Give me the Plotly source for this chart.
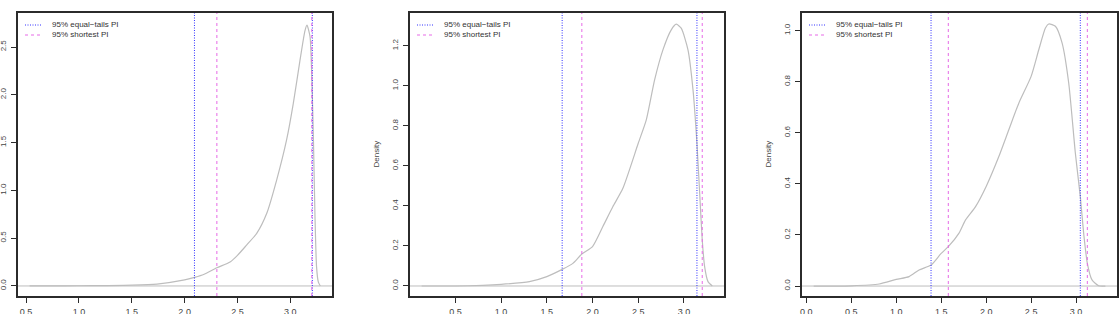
import plotly.graph_objects as go

# ---------------- data ----------------
# Panel 1
x1 = [0.534, 0.733, 1.0, 1.25, 1.503, 1.739, 2.0, 2.094, 2.18, 2.305, 2.43, 2.5, 2.588,
      2.682, 2.777, 2.871, 2.965, 3.028, 3.091, 3.138, 3.157, 3.186, 3.205, 3.217,
      3.233, 3.248, 3.265, 3.284]
d1 = [0.0, 0.0, 0.002, 0.004, 0.008, 0.02, 0.063, 0.09, 0.12, 0.19, 0.25, 0.32, 0.43,
      0.55, 0.76, 1.11, 1.53, 1.91, 2.36, 2.67, 2.73, 2.61, 2.1, 1.6,
      0.73, 0.2, 0.04, 0.0]
et1 = [2.093, 3.208]
sh1 = [2.305, 3.203]

# Panel 2
x2 = [0.131, 0.5, 0.8, 1.0, 1.31, 1.5, 1.668, 1.785, 1.883, 2.0, 2.113, 2.223, 2.332,
      2.5, 2.588, 2.679, 2.77, 2.861, 2.916, 2.97, 3.044, 3.099, 3.142, 3.172, 3.2,
      3.226, 3.263, 3.31]
d2 = [0.0, 0.0, 0.003, 0.008, 0.022, 0.047, 0.083, 0.113, 0.16, 0.197, 0.297, 0.397, 0.488,
      0.713, 0.83, 1.03, 1.18, 1.28, 1.308, 1.288, 1.18, 0.98, 0.713, 0.463, 0.23,
      0.097, 0.022, 0.0]
et2 = [1.668, 3.142]
sh2 = [1.883, 3.200]

# Panel 3
x3 = [0.082, 0.3, 0.5, 0.81, 1.0, 1.143, 1.254, 1.387, 1.5, 1.579, 1.698, 1.771, 1.882,
      2.0, 2.141, 2.252, 2.363, 2.5, 2.585, 2.659, 2.696, 2.77, 2.844, 2.918, 2.992,
      3.047, 3.084, 3.125, 3.177, 3.251, 3.326]
d3 = [0.0, 0.0, 0.001, 0.008, 0.026, 0.037, 0.063, 0.082, 0.128, 0.154, 0.207, 0.259, 0.311,
      0.39, 0.507, 0.612, 0.716, 0.821, 0.925, 1.01, 1.026, 1.017, 0.952, 0.795, 0.52,
      0.35, 0.207, 0.089, 0.024, 0.001, 0.0]
et3 = [1.387, 3.047]
sh3 = [1.579, 3.125]

xticks = [[0.5, 1.0, 1.5, 2.0, 2.5, 3.0],
          [0.5, 1.0, 1.5, 2.0, 2.5, 3.0],
          [0.0, 0.5, 1.0, 1.5, 2.0, 2.5, 3.0]]
yticks = [[0.0, 0.5, 1.0, 1.5, 2.0, 2.5],
          [0.0, 0.2, 0.4, 0.6, 0.8, 1.0, 1.2],
          [0.0, 0.2, 0.4, 0.6, 0.8, 1.0]]
legend_labels = ["95% equal\u2212tails PI", "95% shortest PI"]
ylabel = "Density"

# ---------------- layout / style ----------------
W, H = 1119, 314
FONT = "Liberation Sans, Arial, Helvetica, sans-serif"
CURVE = "#bdbdbd"
BLUE = "#3030ff"
PINK = "#e76ae7"
BOX = "#2b2b2b"
TXT = "#444444"

xdomains = [(18 / W, 332 / W), (410 / W, 724 / W), (802 / W, 1117 / W)]
ydomain = ((314 - 296) / H, (314 - 13) / H)
xranges = [[0.424, 3.394], [0.0036, 3.438], [-0.048, 3.455]]
yranges = [[-0.105, 2.856], [-0.05, 1.364], [-0.039, 1.069]]

panels = [(x1, d1, et1, sh1), (x2, d2, et2, sh2), (x3, d3, et3, sh3)]

fig = go.Figure()
layout = dict(
    width=W, height=H, margin=dict(l=0, r=0, t=0, b=0),
    paper_bgcolor="white", plot_bgcolor="white", showlegend=False,
    font=dict(family=FONT, size=8, color=TXT),
)
shapes = []
annotations = []

for i, (xs, ds, et, sh) in enumerate(panels):
    n = "" if i == 0 else str(i + 1)
    xa, ya = "x" + n, "y" + n
    # baseline at zero
    fig.add_trace(go.Scatter(x=[xranges[i][0], xranges[i][1]], y=[0, 0], mode="lines",
                             line=dict(color=CURVE, width=1), xaxis=xa, yaxis=ya,
                             hoverinfo="skip"))
    fig.add_trace(go.Scatter(x=xs, y=ds, mode="lines",
                             line=dict(color=CURVE, width=1.2, shape="spline", smoothing=0.6),
                             xaxis=xa, yaxis=ya, name="density"))
    for v in et:
        fig.add_trace(go.Scatter(x=[v, v], y=[yranges[i][0], yranges[i][1]], mode="lines",
                                 line=dict(color=BLUE, width=1, dash="1px,1.5px"),
                                 xaxis=xa, yaxis=ya, name=legend_labels[0]))
    for v in sh:
        fig.add_trace(go.Scatter(x=[v, v], y=[yranges[i][0], yranges[i][1]], mode="lines",
                                 line=dict(color=PINK, width=1, dash="3px,3px"),
                                 xaxis=xa, yaxis=ya, name=legend_labels[1]))

    layout["xaxis" + n] = dict(
        domain=list(xdomains[i]), range=xranges[i], anchor=ya, automargin=False,
        tickvals=xticks[i], ticktext=[f"{t:.1f}" for t in xticks[i]],
        ticks="outside", ticklen=5, tickwidth=1, tickcolor=BOX,
        showline=True, mirror=True, linecolor=BOX, linewidth=1.5,
        showgrid=False, zeroline=False, ticklabelstandoff=1,
        tickfont=dict(family=FONT, size=9, color=TXT),
    )
    layout["yaxis" + n] = dict(
        domain=list(ydomain), range=yranges[i], anchor=xa, automargin=False,
        tickvals=yticks[i], ticktext=[f"{t:.1f}" for t in yticks[i]],
        ticks="outside", ticklen=5, tickwidth=1, tickcolor=BOX, tickangle=-90,
        showline=True, mirror=True, linecolor=BOX, linewidth=1.5,
        showgrid=False, zeroline=False, ticklabelstandoff=2,
        tickfont=dict(family=FONT, size=8, color=TXT),
    )

    # legend (drawn in paper space, per panel)
    x0 = xdomains[i][0] * W
    for k, col in enumerate([BLUE, PINK]):
        yy = 25 + 10 * k
        shapes.append(dict(type="line", xref="paper", yref="paper",
                           x0=(x0 + 7) / W, x1=(x0 + 24) / W,
                           y0=1 - yy / H, y1=1 - yy / H,
                           line=dict(color=col, width=1,
                                     dash="1px,1.5px" if k == 0 else "3px,3px")))
        annotations.append(dict(xref="paper", yref="paper", x=(x0 + 32) / W, y=1 - yy / H,
                                xanchor="left", yanchor="middle", showarrow=False,
                                text=legend_labels[k],
                                font=dict(family=FONT, size=8, color="#333333")))
    if i > 0:
        annotations.append(dict(xref="paper", yref="paper", x=(x0 - 34) / W,
                                y=(ydomain[0] + ydomain[1]) / 2, textangle=-90,
                                xanchor="center", yanchor="middle", showarrow=False,
                                text=ylabel, font=dict(family=FONT, size=8, color=TXT)))

layout["shapes"] = shapes
layout["annotations"] = annotations
fig.update_layout(**layout)
fig.write_html("out.html")
